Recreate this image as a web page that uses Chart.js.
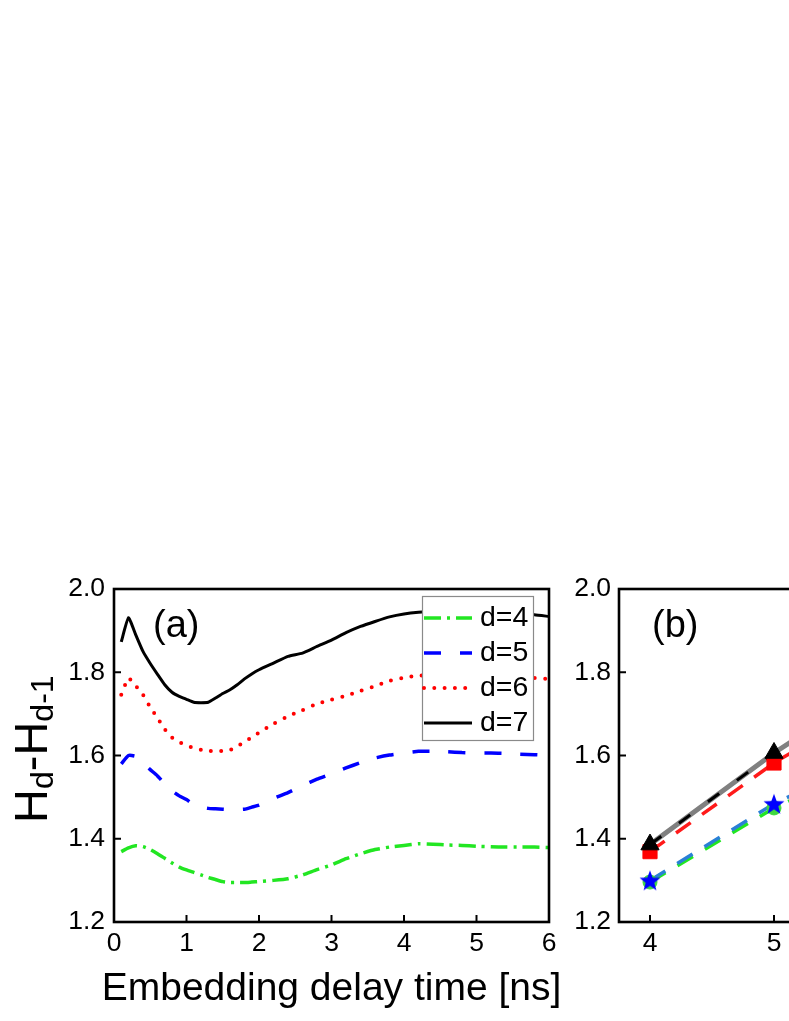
<!DOCTYPE html>
<html><head><meta charset="utf-8">
<script src="https://cdn.jsdelivr.net/npm/chart.js@4.4.1/dist/chart.umd.min.js"></script>
<style>
html,body{margin:0;padding:0;overflow:hidden;background:#fff;width:789px;height:1021px;}
#wrap{position:relative;width:789px;height:1021px;overflow:hidden;background:#fff;}
#ca{position:absolute;left:0;top:560px;}
#cb{position:absolute;left:560px;top:560px;}
</style></head><body>
<div id="wrap"><canvas id="ca" width="580" height="461"></canvas><canvas id="cb" width="520" height="461"></canvas></div>
<script>
// ---------- data: panel (a) ----------
const delayTimes = [0.1,0.2,0.3,0.4,0.5,0.6,0.7,0.8,0.9,1.0,1.1,1.2,1.3,1.4,1.5,1.6,1.7,1.8,1.9,2.0,
  2.2,2.4,2.6,2.8,3.0,3.2,3.4,3.6,3.8,4.0,4.2,4.4,4.6,4.8,5.0,5.2,5.4,5.6,5.8,6.0];
const hD4 = [1.369,1.378,1.383,1.381,1.374,1.364,1.353,1.342,1.332,1.325,1.319,1.313,1.307,1.302,1.297,1.295,1.295,1.295,1.296,1.297,
  1.300,1.304,1.313,1.326,1.337,1.352,1.364,1.374,1.380,1.384,1.388,1.387,1.385,1.384,1.382,1.381,1.380,1.380,1.380,1.379];
const hD5 = [1.580,1.600,1.598,1.582,1.566,1.551,1.532,1.515,1.503,1.494,1.482,1.476,1.473,1.472,1.471,1.470,1.470,1.471,1.476,1.481,
  1.497,1.511,1.528,1.543,1.556,1.570,1.583,1.594,1.601,1.606,1.610,1.610,1.609,1.607,1.606,1.606,1.605,1.603,1.602,1.600];
const hD6 = [1.746,1.786,1.767,1.746,1.716,1.690,1.663,1.643,1.632,1.624,1.618,1.614,1.611,1.610,1.611,1.613,1.622,1.632,1.644,1.655,
  1.676,1.694,1.709,1.724,1.734,1.744,1.755,1.767,1.779,1.787,1.792,1.793,1.792,1.791,1.790,1.789,1.788,1.787,1.786,1.784];
const hD7 = [1.873,1.931,1.890,1.850,1.821,1.795,1.770,1.752,1.742,1.735,1.728,1.727,1.728,1.738,1.749,1.758,1.770,1.784,1.796,1.806,
  1.822,1.838,1.846,1.862,1.877,1.895,1.910,1.922,1.933,1.940,1.944,1.946,1.946,1.945,1.944,1.943,1.941,1.940,1.938,1.934];
const seriesNamesA = ['d=4','d=5','d=6','d=7'];
const xTicksA = [0,1,2,3,4,5,6];
const yTicks = [1.2,1.4,1.6,1.8,2.0];
const xTitleA = 'Embedding delay time [ns]';

// ---------- data: panel (b) ----------
const dims = [4,5,6,7];
const bCircles = [1.296,1.474,1.610,1.727];
const bStars = [1.300,1.484,1.625,1.745];
const bSquares = [1.369,1.582,1.760,1.910];
const bTriangles = [1.386,1.606,1.800,1.960];
const xTicksB = [4,5,6,7];

const FONT = "'Liberation Sans', Arial, Helvetica, sans-serif";
Chart.defaults.font.family = FONT;
Chart.defaults.color = '#000';

const pts = (xs, ys) => xs.map((x,i)=>({x, y: ys[i]}));

// star marker
const starImg = document.createElement('canvas');
starImg.width = 24; starImg.height = 24;
(function(){
  const c = starImg.getContext('2d');
  c.fillStyle = '#0000ff';
  c.beginPath();
  for (let i=0;i<10;i++){
    const r = i%2===0 ? 11 : 4.5;
    const a = -Math.PI/2 + i*Math.PI/5;
    const px = 12 + r*Math.cos(a), py = 13 + r*Math.sin(a);
    if (i===0) c.moveTo(px,py); else c.lineTo(px,py);
  }
  c.closePath(); c.fill();
})();

const framePlugin = {
  id: 'frame',
  afterDatasetsDraw(chart, args, o) {
    if (!o.legend) return;
    const ctx = chart.ctx; const L = o.legend;
    ctx.save();
    ctx.fillStyle = '#fff';
    ctx.fillRect(L.x0, L.y0, L.x1-L.x0, L.y1-L.y0);
    ctx.strokeStyle = '#8a8a8a'; ctx.lineWidth = 1.2;
    ctx.strokeRect(L.x0+0.5, L.y0+0.5, L.x1-L.x0, L.y1-L.y0);
    chart.data.datasets.forEach((ds, i) => {
      const yy = L.rowY0 + i*L.rowStep;
      ctx.save();
      ctx.strokeStyle = ds.borderColor; ctx.lineWidth = ds.borderWidth;
      ctx.setLineDash(ds.borderDash || []);
      ctx.lineCap = ds.borderCapStyle || 'butt';
      ctx.beginPath(); ctx.moveTo(L.sx0, yy); ctx.lineTo(L.sx1, yy); ctx.stroke();
      ctx.restore();
      ctx.fillStyle = '#000'; ctx.font = L.font + 'px ' + FONT;
      ctx.textBaseline = 'middle'; ctx.textAlign = 'left';
      ctx.fillText(ds.label, L.tx, yy);
    });
    ctx.restore();
  },
  afterDraw(chart, args, o) {
    const ctx = chart.ctx;
    const {left, top, right, bottom} = chart.chartArea;
    const xs = chart.scales.x, ys = chart.scales.y;
    ctx.save();
    ctx.strokeStyle = '#000'; ctx.lineWidth = 2;
    o.xTicks.forEach(v => {
      const px = xs.getPixelForValue(v);
      if (px > left+2 && px < right-2) { ctx.beginPath(); ctx.moveTo(px, bottom); ctx.lineTo(px, bottom-7); ctx.stroke(); }
    });
    o.yTicks.forEach(v => {
      const py = ys.getPixelForValue(v);
      if (py > top+2 && py < bottom-2) { ctx.beginPath(); ctx.moveTo(left, py); ctx.lineTo(left+7, py); ctx.stroke(); }
    });
    ctx.lineWidth = 2.6;
    ctx.strokeRect(left, top, right-left, bottom-top);
    ctx.fillStyle = '#000';
    ctx.font = '38px ' + FONT; ctx.textBaseline = 'alphabetic'; ctx.textAlign = 'left';
    ctx.fillText(o.label, o.labelX, o.labelY);
    if (o.xTitle) {
      ctx.font = o.xTitle.size + 'px ' + FONT; ctx.textAlign = 'center';
      ctx.fillText(o.xTitle.text, (left + right) / 2, o.xTitle.y);
      ctx.textAlign = 'left';
    }
    if (o.yTitle) {
      ctx.save();
      ctx.translate(o.yTitle.x, o.yTitle.y);
      ctx.rotate(-Math.PI/2);
      let cx = 0;
      o.yTitle.parts.forEach(p => {
        ctx.font = p[1] + 'px ' + FONT;
        ctx.fillText(p[0], cx, p[2]);
        cx += ctx.measureText(p[0]).width;
      });
      ctx.restore();
    }
    ctx.restore();
  }
};

// ---------- chart (a) ----------
new Chart(document.getElementById('ca'), {
  type: 'line',
  data: {
    datasets: [
      {label: seriesNamesA[0], data: pts(delayTimes, hD4), borderColor: '#22e622', borderWidth: 3.5, borderDash: [17,6,3,6]},
      {label: seriesNamesA[1], data: pts(delayTimes, hD5), borderColor: '#0000ff', borderWidth: 3.5, borderDash: [17,19]},
      {label: seriesNamesA[2], data: pts(delayTimes, hD6), borderColor: '#ff0000', borderWidth: 4, borderDash: [0,10.3], borderCapStyle: 'round'},
      {label: seriesNamesA[3], data: pts(delayTimes, hD7), borderColor: '#000000', borderWidth: 3}
    ]
  },
  options: {
    responsive: false, animation: false,
    layout: {padding: {left: 0, top: 29, right: 31, bottom: 0}},
    elements: {point: {radius: 0}, line: {tension: 0.15, borderJoinStyle: 'round'}},
    plugins: {
      legend: {display: false}, tooltip: {enabled: false},
      frame: {
        xTicks: xTicksA, yTicks: yTicks, label: '(a)', labelX: 153, labelY: 77,
        xTitle: {text: xTitleA, size: 39, y: 440},
        yTitle: {x: 47, y: 263, parts: [['H',47,0],['d',32,6],['-H',47,0],['d-1',32,6]]},
        legend: {x0: 422, y0: 36, x1: 533, y1: 180, rowY0: 58, rowStep: 35, sx0: 424, sx1: 472, tx: 480, font: 28.5}
      }
    },
    scales: {
      x: {
        type: 'linear', min: 0, max: 6,
        afterBuildTicks: s => { s.ticks = xTicksA.map(v => ({value: v})); },
        afterFit: s => { s.height = 99; },
        grid: {display: false, drawTicks: false}, border: {display: false},
        ticks: {font: {size: 26.5}, color: '#000', padding: 6, maxRotation: 0, autoSkip: false, callback: v => String(v)},
        title: {display: false}
      },
      y: {
        type: 'linear', min: 1.2, max: 2.0,
        afterBuildTicks: s => { s.ticks = yTicks.map(v => ({value: v})); },
        afterFit: s => { s.width = 114; },
        grid: {display: false, drawTicks: false}, border: {display: false},
        ticks: {font: {size: 26.5}, color: '#000', padding: 9, callback: v => Number(v).toFixed(1)}
      }
    }
  },
  plugins: [framePlugin]
});

// ---------- chart (b) ----------
new Chart(document.getElementById('cb'), {
  type: 'line',
  data: {
    datasets: [
      {label: 'triangles', data: pts(dims, bTriangles), showLine: false, pointStyle: 'triangle', pointRadius: 10.5, pointBackgroundColor: '#000', pointBorderColor: '#000', pointBorderWidth: 1, order: 0},
      {label: 'squares', data: pts(dims, bSquares), showLine: false, pointStyle: 'rect', pointRadius: 10, pointBackgroundColor: '#ff0000', pointBorderColor: '#ff0000', pointBorderWidth: 1, order: 1},
      {label: 'stars', data: pts(dims, bStars), showLine: false, pointStyle: starImg, order: 2},
      {label: 'circles', data: pts(dims, bCircles), showLine: false, pointStyle: 'circle', pointRadius: 7, pointBackgroundColor: '#3fd83f', pointBorderColor: '#3fd83f', pointBorderWidth: 1, order: 3},
      {label: 'black dash', data: pts(dims, bTriangles), pointRadius: 0, borderColor: '#000', borderWidth: 3, borderDash: [14,22], order: 4},
      {label: 'gray', data: pts(dims, bTriangles), pointRadius: 0, borderColor: '#808080', borderWidth: 5, order: 5},
      {label: 'red', data: pts(dims, bSquares), pointRadius: 0, borderColor: '#ff1a1a', borderWidth: 3.5, borderDash: [18,14], order: 6},
      {label: 'blue', data: pts(dims, bStars), pointRadius: 0, borderColor: '#2a80d6', borderWidth: 3.5, borderDash: [18,14], order: 7},
      {label: 'green', data: pts(dims, bCircles), pointRadius: 0, borderColor: '#22e622', borderWidth: 3.5, borderDash: [18,14], order: 8}
    ]
  },
  options: {
    responsive: false, animation: false,
    layout: {padding: {left: 0, top: 29, right: 27, bottom: 0}},
    elements: {line: {tension: 0}},
    plugins: {
      legend: {display: false}, tooltip: {enabled: false},
      frame: {xTicks: xTicksB, yTicks: yTicks, label: '(b)', labelX: 92, labelY: 77}
    },
    scales: {
      x: {
        type: 'linear', min: 3.75, max: 7.25,
        afterBuildTicks: s => { s.ticks = xTicksB.map(v => ({value: v})); },
        afterFit: s => { s.height = 99; },
        grid: {display: false, drawTicks: false}, border: {display: false},
        ticks: {font: {size: 26.5}, color: '#000', padding: 6, maxRotation: 0, autoSkip: false, callback: v => String(v)}
      },
      y: {
        type: 'linear', min: 1.2, max: 2.0,
        afterBuildTicks: s => { s.ticks = yTicks.map(v => ({value: v})); },
        afterFit: s => { s.width = 59; },
        grid: {display: false, drawTicks: false}, border: {display: false},
        ticks: {font: {size: 26.5}, color: '#000', padding: 8, callback: v => Number(v).toFixed(1)}
      }
    }
  },
  plugins: [framePlugin]
});
</script>
</body></html>
